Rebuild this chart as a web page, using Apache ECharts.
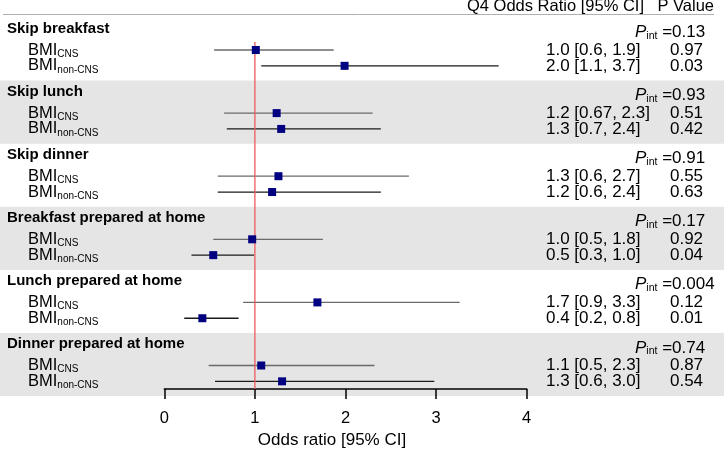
<!DOCTYPE html>
<html><head><meta charset="utf-8">
<script src="https://cdn.jsdelivr.net/npm/echarts@6/dist/echarts.min.js"></script>
<style>html,body{margin:0;padding:0;background:#fff}#c{width:724px;height:454px}</style>
</head><body><div id="c"></div>
<script>
// ---- data ----
const groups = ['Skip breakfast','Skip lunch','Skip dinner','Breakfast prepared at home','Lunch prepared at home','Dinner prepared at home'];
const pInt = ['0.13','0.93','0.91','0.17','0.004','0.74'];
const cnsEst = [1.01, 1.24, 1.26, 0.97, 1.69, 1.07];
const cnsLo  = [0.55, 0.66, 0.59, 0.54, 0.87, 0.49];
const cnsHi  = [1.87, 2.30, 2.70, 1.75, 3.26, 2.32];
const nonEst = [1.99, 1.29, 1.19, 0.54, 0.42, 1.30];
const nonLo  = [1.07, 0.69, 0.59, 0.30, 0.22, 0.56];
const nonHi  = [3.69, 2.39, 2.39, 0.99, 0.82, 2.98];
const cnsText = ['1.0 [0.6, 1.9]','1.2 [0.67, 2.3]','1.3 [0.6, 2.7]','1.0 [0.5, 1.8]','1.7 [0.9, 3.3]','1.1 [0.5, 2.3]'];
const nonText = ['2.0 [1.1, 3.7]','1.3 [0.7, 2.4]','1.2 [0.6, 2.4]','0.5 [0.3, 1.0]','0.4 [0.2, 0.8]','1.3 [0.6, 3.0]'];
const cnsP = ['0.97','0.51','0.55','0.92','0.12','0.87'];
const nonP = ['0.03','0.42','0.63','0.04','0.01','0.54'];
const subLabels = ['CNS','non-CNS'];
const xTicks = [0, 1, 2, 3, 4];
const refValue = 1;

// ---- layout (row offsets inside each group, in group units) ----
const FONT = "'Liberation Sans', Arial, Helvetica, sans-serif";
const ROW_HEAD = 0.177, ROW_PINT = 0.235, ROW_CNS = 0.515, ROW_NON = 0.766, REF_TOP = 0.388, Y_MAX = 5.889;

const ciData = [], estData = [];
groups.forEach((g, i) => {
  ciData.push([cnsLo[i], i + ROW_CNS, cnsHi[i], 0]);
  ciData.push([nonLo[i], i + ROW_NON, nonHi[i], 1]);
  estData.push([cnsEst[i], i + ROW_CNS]);
  estData.push([nonEst[i], i + ROW_NON]);
});
const bandData = groups.map((g, i) => [0, i]).filter(d => d[1] % 2 === 1);
const labelData = groups.map((g, i) => [0, i]);

const chart = echarts.init(document.getElementById('c'));

const RS = 17; // right column font size
function rowText(x, y, text, rich, align, size) {
  return { type: 'text', x: x, y: y, style: { text: text, rich: rich, align: align || 'left', verticalAlign: 'middle', fill: '#000', fontFamily: FONT, fontSize: size || RS } };
}
const bmiRich = {
  m: { fontSize: 16.5, fontFamily: FONT, lineHeight: 18, fill: '#000' },
  s: { fontSize: 10, fontFamily: FONT, lineHeight: 10, verticalAlign: 'bottom', fill: '#000' }
};
const pRich = {
  p: { fontSize: RS, fontFamily: FONT, fontStyle: 'italic', lineHeight: 18, fill: '#000' },
  s: { fontSize: 10.5, fontFamily: FONT, lineHeight: 10, verticalAlign: 'bottom', fill: '#000' },
  m: { fontSize: RS, fontFamily: FONT, lineHeight: 18, fill: '#000' }
};

chart.setOption({
  animation: false,
  grid: { left: 164.3, right: 197.3, top: 17.5, bottom: 53.7 },
  xAxis: {
    type: 'value', position: 'bottom', min: xTicks[0], max: xTicks[xTicks.length - 1], interval: 1,
    axisLine: { show: true, onZero: false, lineStyle: { color: '#000', width: 1.5 } },
    axisTick: { show: true, length: 10, lineStyle: { color: '#000', width: 1.5 } },
    axisLabel: { fontSize: 16.5, color: '#000', fontFamily: FONT, margin: 21 },
    splitLine: { show: false },
    name: 'Odds ratio [95% CI]', nameLocation: 'middle', nameGap: 38,
    nameTextStyle: { fontSize: 17, color: '#000', fontFamily: FONT, padding: [0, 27, 0, 0] }
  },
  yAxis: { type: 'value', min: 0, max: Y_MAX, inverse: true, show: false },
  graphic: [
    { type: 'line', shape: { x1: 3, y1: 14.5, x2: 714, y2: 14.5 }, style: { stroke: '#b0b0b0', lineWidth: 1 } },
    { type: 'text', x: 467, y: 6.5, style: { text: 'Q4 Odds Ratio [95% CI]', fontSize: 16.5, fontFamily: FONT, fill: '#000', align: 'left', verticalAlign: 'middle' } },
    { type: 'text', x: 714, y: 6.5, style: { text: 'P Value', fontSize: 16.5, fontFamily: FONT, fill: '#000', align: 'right', verticalAlign: 'middle' } }
  ],
  series: [
    {
      type: 'custom', z: -1, clip: false, silent: true, data: bandData,
      renderItem: function (params, api) {
        const g = api.value(1);
        const y0 = api.coord([0, g])[1], y1 = api.coord([0, g + 1])[1];
        return { type: 'rect', shape: { x: 0, y: y0, width: api.getWidth(), height: y1 - y0 }, style: { fill: '#e5e5e5' } };
      }
    },
    {
      type: 'custom', z: 2, clip: false, silent: true, data: ciData,
      renderItem: function (params, api) {
        const a = api.coord([api.value(0), api.value(1)]);
        const b = api.coord([api.value(2), api.value(1)]);
        const kind = api.value(3);
        return { type: 'line', shape: { x1: a[0], y1: a[1], x2: b[0], y2: b[1] }, style: { stroke: kind === 0 ? '#6a6a6a' : '#1a1a1a', lineWidth: 1.3 } };
      }
    },
    {
      type: 'line', z: 3, silent: true, symbol: 'none', data: [[refValue, REF_TOP], [refValue, Y_MAX]],
      lineStyle: { color: '#ec5a5a', width: 1.3 }
    },
    {
      type: 'scatter', z: 4, silent: true, symbol: 'rect', symbolSize: 8, data: estData,
      itemStyle: { color: '#000080', opacity: 1 }
    },
    {
      type: 'custom', z: 5, clip: false, silent: true, data: labelData,
      renderItem: function (params, api) {
        const i = api.value(1);
        const yH = api.coord([0, i + ROW_HEAD])[1];
        const yP = api.coord([0, i + ROW_PINT])[1];
        const yC = api.coord([0, i + ROW_CNS])[1];
        const yN = api.coord([0, i + ROW_NON])[1];
        return { type: 'group', children: [
          { type: 'text', x: 7, y: yH, style: { text: groups[i], fontSize: 15, fontWeight: 'bold', fontFamily: FONT, fill: '#000', align: 'left', verticalAlign: 'middle' } },
          rowText(28, yC, '{m|BMI}{s|' + subLabels[0] + '}', bmiRich),
          rowText(28, yN, '{m|BMI}{s|' + subLabels[1] + '}', bmiRich),
          rowText(635, yP, '{p|P}{s|int}{m| =' + pInt[i] + '}', pRich),
          rowText(546, yC, cnsText[i]),
          rowText(546, yN, nonText[i]),
          rowText(686.5, yC, cnsP[i], null, 'center'),
          rowText(686.5, yN, nonP[i], null, 'center')
        ] };
      }
    }
  ]
});
</script>
</body></html>
